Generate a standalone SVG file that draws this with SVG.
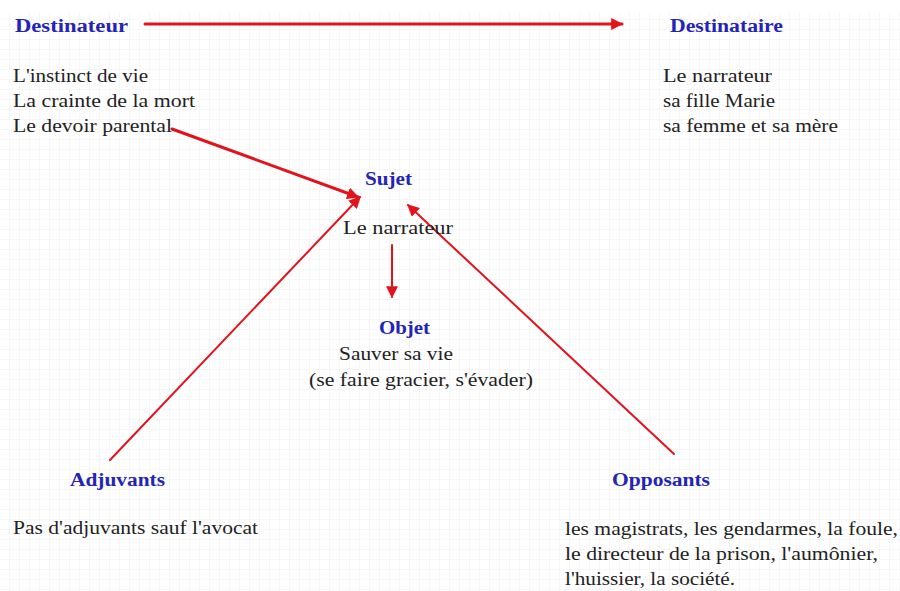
<svg xmlns="http://www.w3.org/2000/svg" width="900" height="591" viewBox="0 0 900 591">
<defs>
<pattern id="grid" width="10" height="10" patternUnits="userSpaceOnUse">
<path d="M10 0 V10 M0 10 H10" fill="none" stroke="#efefef" stroke-width="1"/>
</pattern>
<marker id="ah" viewBox="0 0 10 10" refX="9" refY="5" markerWidth="4" markerHeight="4" markerUnits="strokeWidth" orient="auto">
<path d="M0 0 L10 5 L0 10 Z" fill="#e3121b"/>
</marker>
<marker id="ahs" viewBox="0 0 10 10" refX="9" refY="5" markerWidth="6" markerHeight="6" markerUnits="strokeWidth" orient="auto">
<path d="M0 0 L10 5 L0 10 Z" fill="#e3121b"/>
</marker>
</defs>
<style>
.h{font-family:"Liberation Serif","Times New Roman",serif;font-weight:bold;font-size:18px;fill:#2424b8}
.t{font-family:"Liberation Serif","Times New Roman",serif;font-size:19px;fill:#222}
.c{stroke:#e3121b;fill:none;stroke-linecap:round}
</style>
<rect width="900" height="591" fill="#ffffff"/>
<rect x="0" y="12" width="900" height="579" fill="url(#grid)"/>
<g id="connectors">
<line class="c" x1="145" y1="24" x2="622" y2="24" stroke-width="3" marker-end="url(#ah)"/>
<line class="c" x1="172" y1="129" x2="358" y2="197" stroke-width="3" marker-end="url(#ah)"/>
<line class="c" x1="110" y1="460" x2="360" y2="197" stroke-width="2" marker-end="url(#ahs)"/>
<line class="c" x1="674" y1="454" x2="408" y2="205" stroke-width="2" marker-end="url(#ahs)"/>
<line class="c" x1="392" y1="245" x2="392" y2="297" stroke-width="2" marker-end="url(#ahs)"/>
</g>
<g id="destinateur">
<text class="h" x="15" y="32" textLength="113" lengthAdjust="spacingAndGlyphs">Destinateur</text>
<text class="t" x="13" y="82" textLength="135" lengthAdjust="spacingAndGlyphs">L'instinct de vie</text>
<text class="t" x="13" y="107" textLength="182" lengthAdjust="spacingAndGlyphs">La crainte de la mort</text>
<text class="t" x="13" y="132" textLength="159" lengthAdjust="spacingAndGlyphs">Le devoir parental</text>
</g>
<g id="destinataire">
<text class="h" x="670" y="32" textLength="113" lengthAdjust="spacingAndGlyphs">Destinataire</text>
<text class="t" x="663" y="82" textLength="109" lengthAdjust="spacingAndGlyphs">Le narrateur</text>
<text class="t" x="663" y="107" textLength="112" lengthAdjust="spacingAndGlyphs">sa fille Marie</text>
<text class="t" x="663" y="132" textLength="175" lengthAdjust="spacingAndGlyphs">sa femme et sa mère</text>
</g>
<g id="sujet">
<text class="h" x="365" y="185" textLength="47" lengthAdjust="spacingAndGlyphs">Sujet</text>
<text class="t" x="343" y="234" textLength="110" lengthAdjust="spacingAndGlyphs">Le narrateur</text>
</g>
<g id="objet">
<text class="h" x="379" y="334" textLength="51" lengthAdjust="spacingAndGlyphs">Objet</text>
<text class="t" x="339" y="360" textLength="114" lengthAdjust="spacingAndGlyphs">Sauver sa vie</text>
<text class="t" x="309" y="386" textLength="224" lengthAdjust="spacingAndGlyphs">(se faire gracier, s'évader)</text>
</g>
<g id="adjuvants">
<text class="h" x="70" y="486" textLength="95" lengthAdjust="spacingAndGlyphs">Adjuvants</text>
<text class="t" x="13" y="534" textLength="245" lengthAdjust="spacingAndGlyphs">Pas d'adjuvants sauf l'avocat</text>
</g>
<g id="opposants">
<text class="h" x="612" y="486" textLength="98" lengthAdjust="spacingAndGlyphs">Opposants</text>
<text class="t" x="565" y="535" textLength="333" lengthAdjust="spacingAndGlyphs">les magistrats, les gendarmes, la foule,</text>
<text class="t" x="565" y="560" textLength="313" lengthAdjust="spacingAndGlyphs">le directeur de la prison, l'aumônier,</text>
<text class="t" x="565" y="585" textLength="170" lengthAdjust="spacingAndGlyphs">l'huissier, la société.</text>
</g>
</svg>
